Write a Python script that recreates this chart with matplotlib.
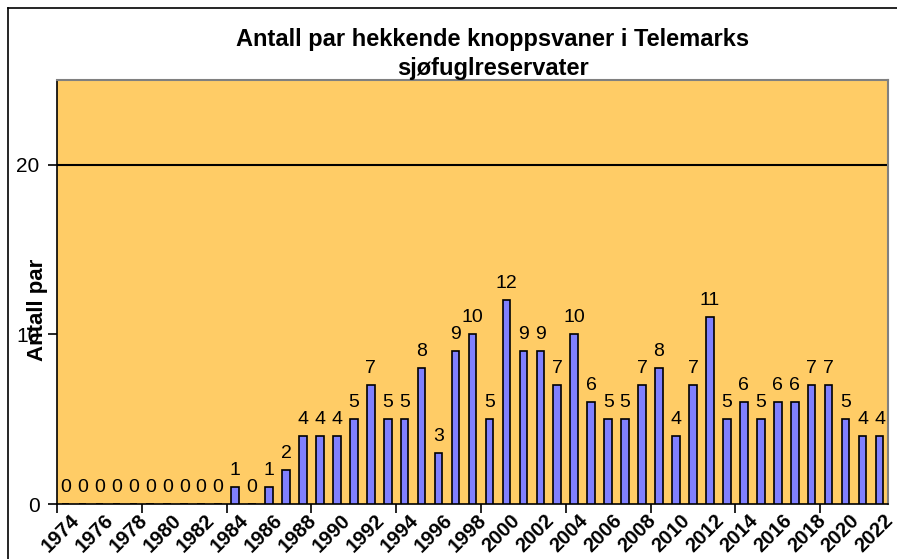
import matplotlib
matplotlib.use("Agg")
import matplotlib.pyplot as plt
from matplotlib.lines import Line2D

plt.rcParams['font.family'] = ['Liberation Sans', 'DejaVu Sans']

years = list(range(1974, 2023))
values = [0, 0, 0, 0, 0, 0, 0, 0, 0, 0,
          1, 0, 1, 2, 4, 4, 4, 5, 7, 5,
          5, 8, 3, 9, 10, 5, 12, 9, 9, 7,
          10, 6, 5, 5, 7, 8, 4, 7, 11, 5,
          6, 5, 6, 6, 7, 7, 5, 4, 4]
title = "Antall par hekkende knoppsvaner i Telemarks\nsjøfuglreservater"
ylabel = "Antall par"
yticks = [0, 10, 20]

W, H = 897, 559
fig = plt.figure(figsize=(W / 100, H / 100), dpi=100)
fig.patch.set_facecolor('white')

# outer chart border (left and top visible)
fig.add_artist(Line2D([8 / W, 8 / W], [0, 1 - 8 / H], transform=fig.transFigure, color='black', lw=1.2))
fig.add_artist(Line2D([8 / W, 1], [1 - 8 / H, 1 - 8 / H], transform=fig.transFigure, color='black', lw=1.2))

left, right, top, bottom = 57, 888, 80, 504
ax = fig.add_axes([left / W, 1 - bottom / H, (right - left) / W, (bottom - top) / H])
ax.set_facecolor('#FFCC66')

x = list(range(len(years)))
ax.bar(x, values, width=0.45, color='#8080FF', edgecolor='black', linewidth=1.2, zorder=3)
for xi, v in zip(x, values):
    ax.annotate(str(v), xy=(xi, v), xytext=(0, 6), textcoords='offset points',
                ha='center', va='bottom', fontsize=14, zorder=4)

ax.set_xlim(-0.5, len(years) - 0.5)
ax.set_ylim(0, 25)
ax.axhline(20, color='black', lw=1.5, zorder=2)

ax.set_yticks(yticks)
ax.set_yticklabels([str(t) for t in yticks], fontsize=15)
ax.tick_params(axis='y', length=6.5, width=1.2, direction='out', pad=6)

# ticks every 5 categories on boundaries; labels every 2 years
ax.set_xticks([i - 0.5 for i in range(0, len(years), 5)])
ax.set_xticklabels([])
ax.tick_params(axis='x', length=6.5, width=1.2, direction='out')
for i in range(0, len(years), 2):
    ax.annotate(str(years[i]), xy=(i, 0), xycoords=('data', 'axes fraction'),
                xytext=(3, -5), textcoords='offset points', rotation=45,
                ha='right', va='top', rotation_mode='anchor', fontsize=14.5,
                fontweight='bold', annotation_clip=False)

for s in ['left', 'bottom']:
    ax.spines[s].set_color('black')
    ax.spines[s].set_linewidth(1.2)
for s in ['top', 'right']:
    ax.spines[s].set_color('#808080')
    ax.spines[s].set_linewidth(1.5)

fig.text(493 / W, 1 - 54 / H, title, ha='center', va='center', fontsize=17,
         fontweight='bold', linespacing=1.3)
fig.text(37 / W, 1 - 310 / H, ylabel, rotation=90, ha='center', va='center',
         fontsize=16, fontweight='bold')

fig.savefig('out.png', dpi=100)
